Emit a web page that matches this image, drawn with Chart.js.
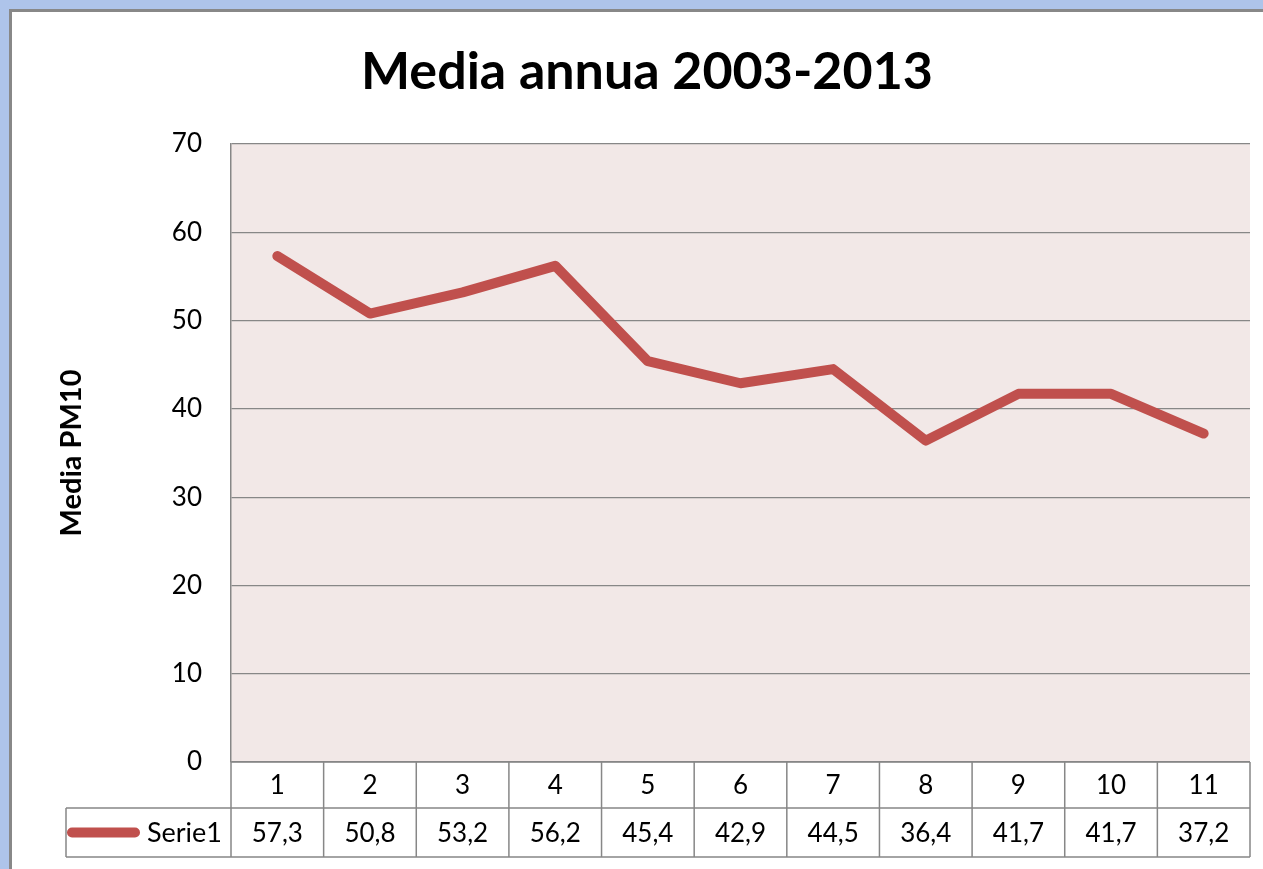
<!DOCTYPE html>
<html>
<head>
<meta charset="utf-8">
<script src="https://cdn.jsdelivr.net/npm/chart.js@4/dist/chart.umd.min.js"></script>
<style>
  body { margin: 0; background: #aec4ea; }
  canvas { display: block; }
</style>
</head>
<body>
<canvas id="mediaAnnua" width="1263" height="869"></canvas>
<script>
var labels = ['1', '2', '3', '4', '5', '6', '7', '8', '9', '10', '11'];
var serie1 = [57.3, 50.8, 53.2, 56.2, 45.4, 42.9, 44.5, 36.4, 41.7, 41.7, 37.2];
var seriesName = 'Serie1';
var chartTitle = 'Media annua 2003-2013';
var yTitle = 'Media PM10';

var FONT = 'Lato, "Open Sans", sans-serif';
var lineColor = '#c0504d';
var gridColor = '#878787';

// sheet frame + plot fill
var sheetBackground = {
  id: 'sheetBackground',
  beforeDraw: function(chart) {
    var c = chart.ctx, a = chart.chartArea;
    c.save();
    c.fillStyle = '#aec4ea';
    c.fillRect(0, 0, chart.width, chart.height);
    c.fillStyle = '#ffffff';
    c.fillRect(10, 10, chart.width - 10, chart.height - 10);
    c.fillStyle = '#888888';
    c.fillRect(9, 9, chart.width - 9, 3);
    c.fillRect(9, 9, 3, chart.height - 9);
    c.fillStyle = '#f2e8e7';
    c.fillRect(a.left, a.top, a.right - a.left, a.bottom - a.top);
    c.restore();
  }
};

// data table under the plot, laid out on the x scale
var dataTable = {
  id: 'dataTable',
  afterDraw: function(chart) {
    var c = chart.ctx, x = chart.scales.x, a = chart.chartArea;
    var step = x.getPixelForValue(1) - x.getPixelForValue(0);
    var top = a.bottom, mid = top + 46, bot = mid + 49, legLeft = 66;
    c.save();
    c.strokeStyle = gridColor;
    c.lineWidth = 1.5;
    c.beginPath();
    c.moveTo(a.left, top); c.lineTo(a.right, top);
    c.moveTo(legLeft, mid); c.lineTo(a.right, mid);
    c.moveTo(legLeft, bot); c.lineTo(a.right, bot);
    c.moveTo(legLeft, mid); c.lineTo(legLeft, bot);
    for (var i = 0; i <= labels.length; i++) {
      var px = x.getPixelForValue(0) - step / 2 + i * step;
      c.moveTo(px, top); c.lineTo(px, bot);
    }
    c.stroke();

    c.fillStyle = '#000';
    c.font = '26px ' + FONT;
    c.textAlign = 'center';
    c.textBaseline = 'middle';
    for (var j = 0; j < labels.length; j++) {
      var cx = x.getPixelForValue(j);
      c.fillText(labels[j], cx, (top + mid) / 2 + 1);
      c.fillText(serie1[j].toFixed(1).replace('.', ','), cx, (mid + bot) / 2 + 1);
    }

    // legend key
    c.strokeStyle = lineColor;
    c.lineWidth = 10;
    c.lineCap = 'round';
    c.beginPath();
    c.moveTo(72, (mid + bot) / 2);
    c.lineTo(135, (mid + bot) / 2);
    c.stroke();
    c.textAlign = 'right';
    c.font = '27px ' + FONT;
    c.fillText(seriesName, a.left - 9, (mid + bot) / 2 + 1);
    c.restore();
  }
};

new Chart(document.getElementById('mediaAnnua'), {
  type: 'line',
  data: {
    labels: labels,
    datasets: [{
      label: seriesName,
      data: serie1,
      borderColor: lineColor,
      backgroundColor: lineColor,
      borderWidth: 10,
      borderCapStyle: 'round',
      borderJoinStyle: 'round',
      pointRadius: 0,
      tension: 0,
      fill: false
    }]
  },
  options: {
    responsive: false,
    animation: false,
    layout: { padding: { left: 44, top: 0, right: 13, bottom: 107 } },
    plugins: {
      legend: { display: false },
      tooltip: { enabled: false },
      title: {
        display: true,
        text: chartTitle,
        color: '#000',
        font: { family: FONT, size: 52, weight: 'bold', lineHeight: 1.2 },
        padding: { top: 40.8, bottom: 40.8 }
      }
    },
    scales: {
      x: {
        display: false,
        offset: true,
        grid: { display: false }
      },
      y: {
        min: 0,
        max: 70,
        afterFit: function(s) { s.width = 187; },
        ticks: {
          stepSize: 10,
          color: '#000',
          padding: 29,
          font: { family: FONT, size: 26 }
        },
        grid: { color: gridColor, lineWidth: 1.2, drawTicks: false },
        border: { display: true, color: gridColor, width: 1.5 },
        title: {
          display: true,
          text: yTitle,
          color: '#000',
          font: { family: FONT, size: 29, weight: 'bold', lineHeight: 1.2 },
          padding: { top: 10.6, bottom: 0 }
        }
      }
    }
  },
  plugins: [sheetBackground, dataTable]
});
</script>
</body>
</html>
